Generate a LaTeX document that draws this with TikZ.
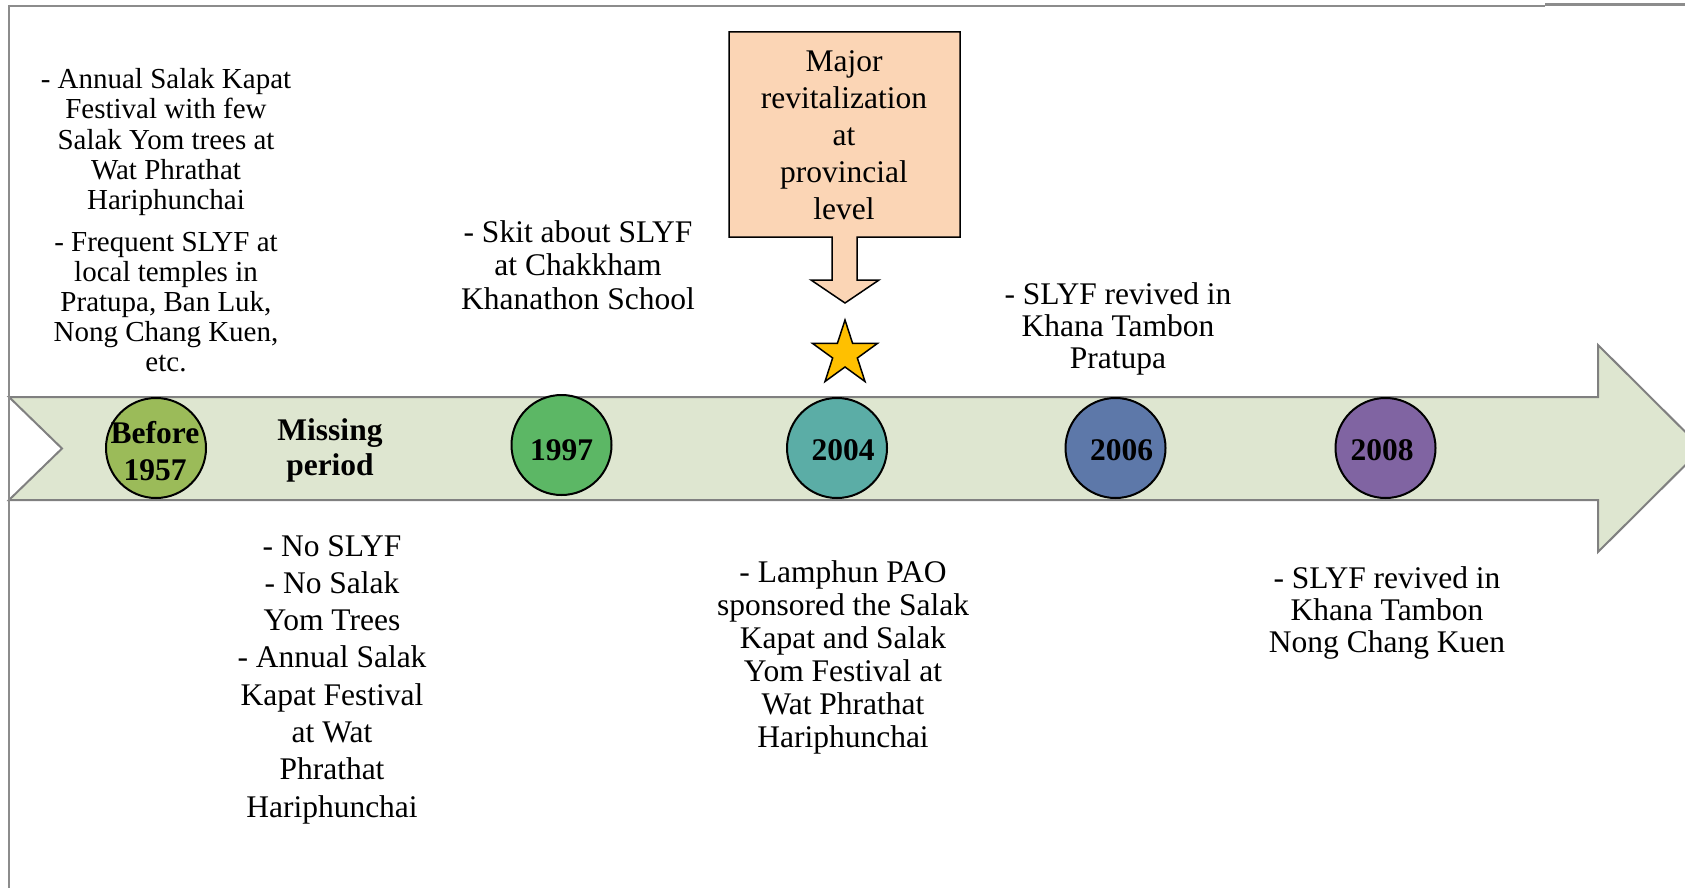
\documentclass[tikz,border=0pt]{standalone}
\usepackage{fontspec}
\setmainfont{Liberation Serif}
\usetikzlibrary{shapes.geometric}

\definecolor{bandfill}{HTML}{DEE6D0}
\definecolor{bandline}{HTML}{808080}
\definecolor{frameline}{HTML}{8C8C8C}
\definecolor{calloutfill}{HTML}{FBD5B5}
\definecolor{starfill}{HTML}{FFC000}
\definecolor{yrA}{HTML}{9BBB59}
\definecolor{yrB}{HTML}{5CB765}
\definecolor{yrC}{HTML}{5BADA6}
\definecolor{yrD}{HTML}{5D78A9}
\definecolor{yrE}{HTML}{8064A2}

% centred stack of lines whose baseline is the first line
\newcommand{\tlines}[1]{\begin{tabular}[t]{@{}c@{}}#1\end{tabular}}

\begin{document}
\begin{tikzpicture}[x=1pt,y=-1pt,
  yearball/.style={circle, draw=black, line width=2pt, minimum size=100pt, inner sep=0pt},
  yeartext/.style={anchor=base, inner sep=0pt, font=\fontsize{31.5}{#1}\selectfont\bfseries},
  note/.style={anchor=base, inner sep=0pt, font=\fontsize{31.5}{#1}\selectfont},
  smallnote/.style={anchor=base, inner sep=0pt, font=\fontsize{29}{30}\selectfont},
]
\useasboundingbox (0,0) rectangle (1685,888);
\clip (0,0) rectangle (1685,888);

% timeline arrow band
\draw[fill=bandfill, draw=bandline, line width=2pt, line join=miter]
  (9,397) -- (1598,397) -- (1598,345) -- (1702,448.5) -- (1598,552)
  -- (1598,500) -- (9,500) -- (62,448.5) -- cycle;

% frame lines
\draw[frameline, line width=1.3pt] (9,6) -- (1545,6);
\draw[frameline, line width=2.2pt] (1545,4.5) -- (1685,4.5);
\draw[frameline, line width=2pt] (9,5) -- (9,888);

% year markers
\node[yearball, fill=yrA] (cA) at (156,448) {};
\node[yearball, fill=yrB] (cB) at (561.5,445) {};
\node[yearball, fill=yrC] (cC) at (837,448) {};
\node[yearball, fill=yrD] (cD) at (1115.5,448) {};
\node[yearball, fill=yrE] (cE) at (1385.5,448) {};

\node[yeartext=37] (tA) at (155,443) {\tlines{Before\\1957}};
\node[yeartext=37] (tB) at (561.5,460) {1997};
\node[yeartext=37] (tC) at (843,460) {2004};
\node[yeartext=37] (tD) at (1121.5,460) {2006};
\node[yeartext=37] (tE) at (1382,460) {2008};
\node[yeartext=35] (tGap) at (330,440) {\tlines{Missing\\period}};

% callout box with downward arrow
\draw[fill=calloutfill, draw=black, line width=1.5pt, line join=miter]
  (729,32) -- (960,32) -- (960,237) -- (857,237) -- (857,280) -- (879,280)
  -- (845,303) -- (811,280) -- (832,280) -- (832,237) -- (729,237) -- cycle;
\node[note=37] (major) at (844,72)
  {\tlines{Major\\revitalization\\at\\provincial\\level}};

\node[star, star points=5, star point ratio=2.618, minimum size=68pt,
      inner sep=0pt, fill=starfill, draw=black, line width=1.5pt] (star) at (845,354) {};

% notes above the band
\node[smallnote] (nA1) at (166,89)
  {\tlines{- Annual Salak Kapat\\Festival with few\\Salak Yom trees at\\Wat Phrathat\\Hariphunchai}};
\node[smallnote] (nA2) at (166,251)
  {\tlines{- Frequent SLYF at\\local temples in\\Pratupa, Ban Luk,\\Nong Chang Kuen,\\etc.}};
\node[note=33.5] (nB) at (578,242)
  {\tlines{- Skit about SLYF\\at Chakkham\\Khanathon School}};
\node[note=32] (nD) at (1118,304)
  {\tlines{- SLYF revived in\\Khana Tambon\\Pratupa}};

% notes below the band
\node[note=37.3] (nGap) at (332,556)
  {\tlines{- No SLYF\\- No Salak\\Yom Trees\\- Annual Salak\\Kapat Festival\\at Wat\\Phrathat\\Hariphunchai}};
\node[note=33] (nC) at (843,582)
  {\tlines{- Lamphun PAO\\sponsored the Salak\\Kapat and Salak\\Yom Festival at\\Wat Phrathat\\Hariphunchai}};
\node[note=32] (nE) at (1387,588)
  {\tlines{- SLYF revived in\\Khana Tambon\\Nong Chang Kuen}};
\end{tikzpicture}
\end{document}
